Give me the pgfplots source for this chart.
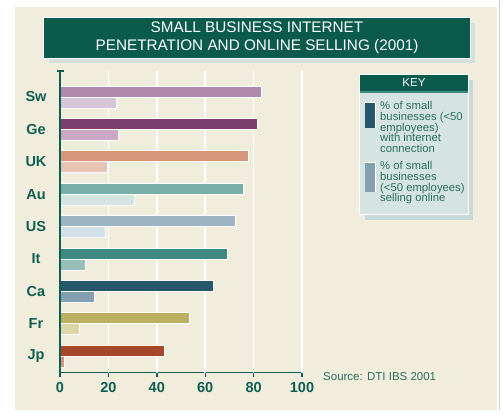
\documentclass[border=0pt]{standalone}
\usepackage{pgfplots}
\pgfplotsset{compat=1.18}
\usepackage{fontspec}
\setmainfont{Liberation Sans}
\definecolor{bg}{HTML}{F1EDDC}
\definecolor{gridw}{HTML}{FFFFFF}
\definecolor{dkgreen}{HTML}{0B5B4D}
\definecolor{axiscol}{HTML}{0E5E52}
\definecolor{keytext}{HTML}{2A6E60}
\definecolor{shadowc}{HTML}{D3E0DE}
\definecolor{keyshadow}{HTML}{C9D9D7}
\definecolor{keybody}{HTML}{D5E4E1}
\definecolor{keystripe}{HTML}{3E8A82}
\definecolor{swA}{HTML}{B08AAE}\definecolor{swB}{HTML}{D8C4D8}
\definecolor{geA}{HTML}{7B3F6E}\definecolor{geB}{HTML}{C8A8C4}
\definecolor{ukA}{HTML}{D4977C}\definecolor{ukB}{HTML}{E8C4B4}
\definecolor{auA}{HTML}{78AEA8}\definecolor{auB}{HTML}{D6E4E0}
\definecolor{usA}{HTML}{9CB4C4}\definecolor{usB}{HTML}{D4E0E8}
\definecolor{itA}{HTML}{3E8A82}\definecolor{itB}{HTML}{98BEBA}
\definecolor{caA}{HTML}{26566A}\definecolor{caB}{HTML}{84A0B0}
\definecolor{frA}{HTML}{BCB062}\definecolor{frB}{HTML}{DDD6A6}
\definecolor{jpA}{HTML}{A4472A}\definecolor{jpB}{HTML}{D49484}
\begin{document}
\begin{tikzpicture}
\useasboundingbox (0pt,0pt) rectangle (504pt,417pt);
\begin{scope}[x=1pt,y=1pt]
\fill[bg] (15,7) rectangle (497,410);
% grid lines (behind bars)
\draw[gridw, line width=1.5pt] (108.4,44.3) -- (108.4,346);
\draw[gridw, line width=1.5pt] (156.8,44.3) -- (156.8,346);
\draw[gridw, line width=1.5pt] (205.2,44.3) -- (205.2,346);
\draw[gridw, line width=1.5pt] (253.6,44.3) -- (253.6,346);
\draw[gridw, line width=1.5pt] (302,44.3) -- (302,346);
\fill[white] (497,7) rectangle (499,410);
\fill[black!20] (499,7) rectangle (500,417);
% title
\fill[shadowc] (49,394) rectangle (475,354);
\fill[white] (43.4,399.6) rectangle (470.6,358.4);
\fill[dkgreen] (44.2,398.8) rectangle (469.8,359.2);
\node[white, align=center, font=\fontsize{15.3}{18}\selectfont] at (257,379.5) {SMALL BUSINESS INTERNET\\PENETRATION AND ONLINE SELLING (2001)};
% key
\fill[keyshadow] (365,337) rectangle (473,197);
\fill[white] (359.4,342.6) rectangle (468.6,202.4);
\fill[keybody] (360.2,341.8) rectangle (467.8,203.2);
\fill[dkgreen] (360.2,341.8) rectangle (467.8,326);
\fill[keystripe] (360.2,326) rectangle (467.8,324);
\node[white, font=\fontsize{11.5}{13}\selectfont] at (414,334) {KEY};
\fill[white] (364.5,314.5) rectangle (376,288.5);
\fill[caA] (365.2,313.8) rectangle (375.3,289.2);
\fill[white] (364.5,255) rectangle (376,224.5);
\fill[caB] (365.2,254.3) rectangle (375.3,225.2);
\node[keytext, anchor=north west, inner sep=0pt, align=left, font=\fontsize{11.3}{10.7}\selectfont] at (380,315.6) {\% of small\\businesses (<50\\employees)\\with internet\\connection};
\node[keytext, anchor=north west, inner sep=0pt, align=left, font=\fontsize{11.3}{10.7}\selectfont] at (380,255.6) {\% of small\\businesses\\(<50 employees)\\selling online};
% source
\node[keytext, anchor=west, inner sep=0pt, font=\fontsize{11.5}{13}\selectfont] at (323,40) {Source: DTI IBS 2001};
\end{scope}
\begin{axis}[
  at={(60pt,44.3pt)}, anchor=south west, scale only axis,
  width=242pt, height=301.7pt,
  xmin=0, xmax=100, ymin=-0.509, ymax=8.802,
  axis x line=bottom, axis y line=left,
  axis line style={axiscol, line width=1.4pt, -},
  xtick={0,20,40,60,80,100},
  ytick={0,1,2,3,4,5,6,7,8},
  yticklabels={Jp,Fr,Ca,It,US,Au,UK,Ge,Sw},
  major x tick style={axiscol, line width=1.4pt},
  major y tick style={draw=none},
  tick align=center, major tick length=8pt,
  /pgf/number format/assume math mode=true,
  ticklabel style={axiscol, font=\bfseries\fontsize{14.5}{14.5}\selectfont},
  xticklabel style={anchor=center, yshift=-11pt},
  yticklabel style={anchor=center, xshift=-20pt},
  clip=false,
  every axis plot/.append style={xbar, draw=white, line width=0.8pt, bar width=11pt},
]
\draw[gridw, line width=1.5pt] (axis cs:20,-0.509) -- (axis cs:20,8.802);
\draw[gridw, line width=1.5pt] (axis cs:40,-0.509) -- (axis cs:40,8.802);
\draw[gridw, line width=1.5pt] (axis cs:60,-0.509) -- (axis cs:60,8.802);
\draw[gridw, line width=1.5pt] (axis cs:80,-0.509) -- (axis cs:80,8.802);
\draw[gridw, line width=1.5pt] (axis cs:100,-0.509) -- (axis cs:100,8.802);
\addplot[fill=swA, bar shift=5.5pt] coordinates {(83.3,8)};
\addplot[fill=swB, bar shift=-5.5pt] coordinates {(23.1,8)};
\addplot[fill=geA, bar shift=5.5pt] coordinates {(81.5,7)};
\addplot[fill=geB, bar shift=-5.5pt] coordinates {(24.2,7)};
\addplot[fill=ukA, bar shift=5.5pt] coordinates {(77.7,6)};
\addplot[fill=ukB, bar shift=-5.5pt] coordinates {(19.6,6)};
\addplot[fill=auA, bar shift=5.5pt] coordinates {(75.8,5)};
\addplot[fill=auB, bar shift=-5.5pt] coordinates {(30.6,5)};
\addplot[fill=usA, bar shift=5.5pt] coordinates {(72.6,4)};
\addplot[fill=usB, bar shift=-5.5pt] coordinates {(18.7,4)};
\addplot[fill=itA, bar shift=5.5pt] coordinates {(69.3,3)};
\addplot[fill=itB, bar shift=-5.5pt] coordinates {(10.3,3)};
\addplot[fill=caA, bar shift=5.5pt] coordinates {(63.5,2)};
\addplot[fill=caB, bar shift=-5.5pt] coordinates {(14.3,2)};
\addplot[fill=frA, bar shift=5.5pt] coordinates {(53.3,1)};
\addplot[fill=frB, bar shift=-5.5pt] coordinates {(7.9,1)};
\addplot[fill=jpA, bar shift=5.5pt] coordinates {(43.3,0)};
\addplot[fill=jpB, bar shift=-5.5pt] coordinates {(2.0,0)};
\end{axis}
\begin{scope}[x=1pt,y=1pt]
\draw[axiscol, line width=1.4pt] (60,40.3) -- (60,346);
\draw[axiscol, line width=1.4pt] (56.5,346) -- (63.5,346);
\end{scope}
\end{tikzpicture}
\end{document}
